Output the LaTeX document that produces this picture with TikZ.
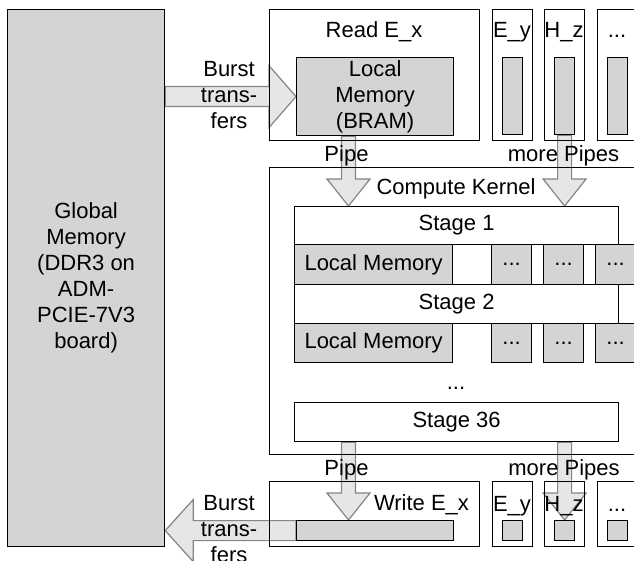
\documentclass[tikz,border=0pt]{standalone}
\usepackage{fontspec}
\setmainfont{Liberation Sans}
\usetikzlibrary{calc,backgrounds}
\definecolor{memgray}{HTML}{D4D4D4}
\definecolor{arrowfill}{HTML}{E6E6E6}
\definecolor{arrowline}{HTML}{858585}
\newcommand{\tdots}{...}

\begin{document}
\begin{tikzpicture}[x=1pt, y=-1pt, font=\fontsize{22}{26}\selectfont,
    blk/.style 2 args={draw, line width=1.2pt, inner sep=0pt, anchor=north west,
        minimum width=#1pt, minimum height=#2pt},
    mem/.style={fill=memgray},
    lbl/.style={inner sep=0pt},
    fatarrow/.style={draw=arrowline, fill=arrowfill, line width=1.2pt},
    burstright/.style={fatarrow, to path={let \p1=(\tikztostart), \p2=(\tikztotarget) in
        (\x1,\y1+10pt) -- (\x2-27pt,\y1+10pt) -- (\x2-27pt,\y1+31pt) -- (\x2,\y2)
        -- (\x2-27pt,\y1-31pt) -- (\x2-27pt,\y1-10pt) -- (\x1,\y1-10pt) -- cycle}},
    burstleft/.style={fatarrow, to path={let \p1=(\tikztostart), \p2=(\tikztotarget) in
        (\x1,\y1+10pt) -- (\x2+28pt,\y1+10pt) -- (\x2+28pt,\y1+31pt) -- (\x2,\y2)
        -- (\x2+28pt,\y1-31pt) -- (\x2+28pt,\y1-10pt) -- (\x1,\y1-10pt) -- cycle}},
    pipe/.style={fatarrow, to path={let \p1=(\tikztostart), \p2=(\tikztotarget) in
        (\x1-7pt,\y1) -- (\x1-7pt,\y2+27pt) -- (\x1-21.5pt,\y2+27pt) -- (\x2,\y2)
        -- (\x1+21.5pt,\y2+27pt) -- (\x1+7pt,\y2+27pt) -- (\x1+7pt,\y1) -- cycle}}]
    \useasboundingbox (0,0) rectangle (634,561);
    \clip (0,0) rectangle (634,561);

    % global memory
    \node[blk={157}{537}, mem, align=center] (gmem) at (7,9) {Global\\Memory\\(DDR3 on\\ADM-\\PCIE-7V3\\board)};

    % read kernels
    \node[blk={210}{131}] (readx) at (269,9) {};
    \node[blk={157}{78}, mem, align=center] (bram) at (296,57) {Local\\Memory\\(BRAM)};
    \node[lbl, anchor=base] (readlbl) at (374,38) {Read E\_x};
    \foreach \x/\t/\n in {492/E\_y/ey, 544/H\_z/hz, 597/\tdots/more} {
        \node[blk={40}{131}] (\n) at (\x,9) {};
        \node[blk={20}{77}, mem] (\n-in) at (\x+10,57) {};
        \node[lbl, anchor=base] (\n-lbl) at (\x+20,38) {\t};
    }
    \node[lbl, align=center] (burstin) at (229,95) {Burst\\trans-\\fers};

    % compute kernel
    \node[blk={380}{287}] (kernel) at (269,167) {};
    \node[lbl, anchor=base] (kernlbl) at (456,195) {Compute Kernel};
    \node[blk={324}{38}] (stage1) at (294,206) {Stage 1};
    \node[blk={158}{40}, mem] (lm1) at (294,244) {Local Memory};
    \node[blk={324}{39}] (stage2) at (294,284) {Stage 2};
    \node[blk={158}{39}, mem] (lm2) at (294,323) {Local Memory};
    \foreach \x [count=\i] in {491,543,595} {
        \node[blk={40}{40}, mem] (rowa\i) at (\x,244) {\tdots};
        \node[blk={40}{39}, mem] (rowb\i) at (\x,323) {\tdots};
    }
    \node[lbl, anchor=base] (moredots) at (456,389) {\tdots};
    \node[blk={324}{39}] (stage36) at (294,402) {Stage 36};

    \node[lbl, anchor=base] (pipetop) at (346.5,162) {Pipe};
    \node[lbl, anchor=base] (morepipestop) at (563.5,162) {more Pipes};
    \node[lbl, anchor=base] (pipebot) at (346.5,475) {Pipe};
    \node[lbl, anchor=base] (morepipesbot) at (564,475) {more Pipes};

    % write kernels
    \node[blk={210}{65}] (writex) at (269,481) {};
    \node[blk={157}{20}, mem] (wbar) at (296,520) {};
    \node[lbl, anchor=base] (writelbl) at (421.5,510) {Write E\_x};
    \foreach \x/\t/\n in {492/E\_y/ey, 544/H\_z/hz, 597/\tdots/more} {
        \node[blk={40}{65}] (w\n) at (\x,481) {};
        \node[blk={20}{20}, mem] (w\n-in) at (\x+10,520) {};
        \node[lbl, anchor=base] (w\n-lbl) at (\x+20,511) {\t};
    }
    \node[lbl, align=center] (burstout) at (229,529) {Burst\\trans-\\fers};

    % transfers
    \coordinate (pipecol) at (348.5,0);
    \begin{pgfonlayer}{background}
        \draw[burstright] (gmem.east |- bram.west) to (bram.west);
        \draw[burstleft] (wbar.west) to (gmem.east |- wbar.west);
        \draw[pipe] (pipecol |- bram.south) to (pipecol |- stage1.north);
        \draw[pipe] (hz-in.south) to (hz-in.south |- stage1.north);
        \draw[pipe] (pipecol |- stage36.south) to (pipecol |- wbar.north);
        \draw[pipe] (hz-in.south |- stage36.south) to (whz-in.north);
    \end{pgfonlayer}
\end{tikzpicture}
\end{document}
